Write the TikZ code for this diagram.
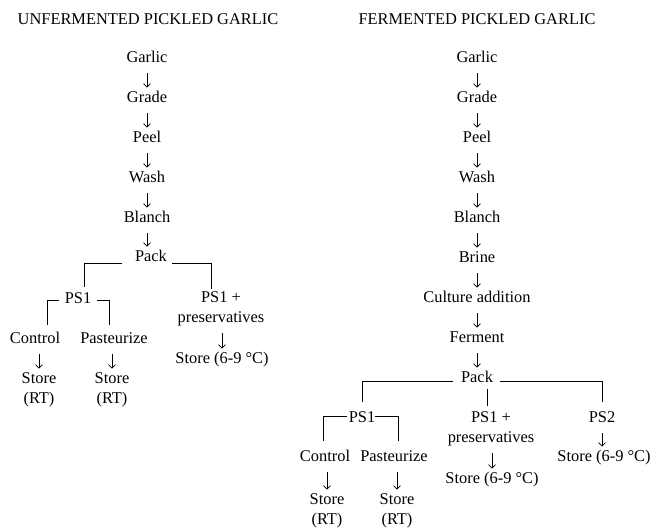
\documentclass[tikz,border=0pt]{standalone}
\usepackage{fontspec}
\setmainfont{Liberation Serif}
\usetikzlibrary{arrows.meta}
\newcommand\hs{\rule{0pt}{11pt}}
\newcommand\ds{\rule[-3.5pt]{0pt}{3.5pt}}
\tikzset{
  lbl/.style={inner sep=0pt, font=\fontsize{16.4}{20}\selectfont, align=center},
  one/.style={lbl, text height=11pt, text depth=3.5pt},
  flow/.style={line width=0.6pt, -{Straight Barb[length=3.5pt,width=7pt]}, shorten <=7pt, shorten >=4pt},
  brk/.style={line width=0.7pt}
}
\begin{document}
\begin{tikzpicture}[x=1pt,y=-1pt]
\useasboundingbox (0,0) rectangle (652,527);
% ---------- left: unfermented ----------
\node[one] (uT) at (148,21) {UNFERMENTED PICKLED GARLIC};
\node[one] (uGarlic) at (147,59) {Garlic};
\node[one] (uGrade) at (147,99) {Grade};
\node[one] (uPeel) at (147,139) {Peel};
\node[one] (uWash) at (147,179) {Wash};
\node[one] (uBlanch) at (147,219) {Blanch};
\node[one] (uPack) at (151,258) {Pack};
\node[one] (uPS1) at (78,300) {PS1};
\node[lbl] (uPPres) at (221,309) {\hs PS1 +\\preservatives\ds};
\node[one] (uCtrl) at (35,340) {Control};
\node[one] (uPast) at (114,340) {Pasteurize};
\node[lbl] (uStA) at (39,390) {\hs Store\\(RT)\ds};
\node[lbl] (uStB) at (112,390) {\hs Store\\(RT)\ds};
\node[one] (uStC) at (222,360) {Store (6-9 °C)};

\draw[flow] (uGarlic) -- (uGrade);
\draw[flow] (uGrade) -- (uPeel);
\draw[flow] (uPeel) -- (uWash);
\draw[flow] (uWash) -- (uBlanch);
\draw[flow] (uBlanch.south) -- (uBlanch.south |- uPack.north);
\draw[brk] ([xshift=-13pt,yshift=-5pt]uPack.west) -| ([xshift=6pt,yshift=6pt]uPS1.north);
\draw[brk] ([xshift=5pt,yshift=-5pt]uPack.east) -| ([xshift=-10pt,yshift=3pt]uPPres.north);
\draw[brk] ([xshift=-6pt]uPS1.west) -| ([xshift=12pt,yshift=8pt]uCtrl.north);
\draw[brk] ([xshift=6pt]uPS1.east) -| ([xshift=-5pt,yshift=8pt]uPast.north);
\draw[flow] (uStA.north |- uCtrl.south) -- (uStA.north);
\draw[flow] (uStB.north |- uPast.south) -- (uStB.north);
\draw[flow] (uStC.north |- uPPres.south) -- (uStC.north);

% ---------- right: fermented ----------
\node[one] (fT) at (477,21) {FERMENTED PICKLED GARLIC};
\node[one] (fGarlic) at (477,59) {Garlic};
\node[one] (fGrade) at (477,99) {Grade};
\node[one] (fPeel) at (477,139) {Peel};
\node[one] (fWash) at (477,179) {Wash};
\node[one] (fBlanch) at (477,219) {Blanch};
\node[one] (fBrine) at (477,259) {Brine};
\node[one] (fCult) at (477,299) {Culture addition};
\node[one] (fFerm) at (477,339) {Ferment};
\node[one] (fPack) at (477,379) {Pack};
\node[one] (fPS1) at (362,419) {PS1};
\node[lbl] (fPPres) at (491,429) {\hs PS1 +\\preservatives\ds};
\node[one] (fPS2) at (602,419) {PS2};
\node[one] (fCtrl) at (325,458) {Control};
\node[one] (fPast) at (394,458) {Pasteurize};
\node[lbl] (fStA) at (327,511) {\hs Store\\(RT)\ds};
\node[lbl] (fStB) at (397,511) {\hs Store\\(RT)\ds};
\node[one] (fStC) at (492,480) {Store (6-9 °C)};
\node[one] (fStD) at (604,458) {Store (6-9 °C)};

\draw[flow] (fGarlic) -- (fGrade);
\draw[flow] (fGrade) -- (fPeel);
\draw[flow] (fPeel) -- (fWash);
\draw[flow] (fWash) -- (fBlanch);
\draw[flow] (fBlanch) -- (fBrine);
\draw[flow] (fBrine) -- (fCult);
\draw[flow] (fCult) -- (fFerm);
\draw[flow] (fFerm) -- (fPack);
\draw[brk] ([xshift=-8pt,yshift=-2pt]fPack.west) -| ([yshift=10pt]fPS1.north);
\draw[brk] ([xshift=7pt,yshift=-2pt]fPack.east) -| ([yshift=10pt]fPS2.north);
\draw[brk, shorten <=3pt, shorten >=6pt] ([xshift=10pt]fPack.south) -- ([xshift=-4pt]fPPres.north);
\draw[brk] ([xshift=-2pt,yshift=3pt]fPS1.west) -| ([xshift=-2pt,yshift=10pt]fCtrl.north);
\draw[brk] ([yshift=3pt]fPS1.east) -| ([xshift=4pt,yshift=10pt]fPast.north);
\draw[flow] (fStA.north |- fCtrl.south) -- (fStA.north);
\draw[flow] (fStB.north |- fPast.south) -- (fStB.north);
\draw[flow] (fStC.north |- fPPres.south) -- (fStC.north);
\draw[flow] (fPS2.south) -- (fPS2.south |- fStD.north);
\end{tikzpicture}
\end{document}
